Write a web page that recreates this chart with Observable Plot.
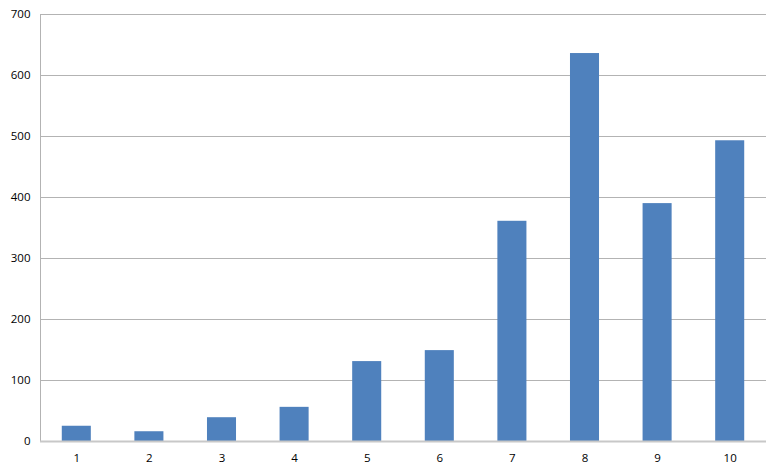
<!DOCTYPE html>
<html>
<head>
<meta charset="utf-8">
<script src="https://cdn.jsdelivr.net/npm/d3@7"></script>
<script src="https://cdn.jsdelivr.net/npm/@observablehq/plot@0.6"></script>
<style>
  html, body { margin: 0; padding: 0; background: #fff; }
  svg { display: block; }
</style>
</head>
<body>
<div id="chart"></div>
<script>
const categories = ["1", "2", "3", "4", "5", "6", "7", "8", "9", "10"];
const values = [25, 16, 39, 56, 131, 149, 361, 636, 390, 493];
const yTicks = [0, 100, 200, 300, 400, 500, 600, 700];

const data = categories.map((c, i) => ({ cat: c, value: values[i] }));

const chart = Plot.plot({
  width: 780,
  height: 474,
  marginLeft: 40,
  marginTop: 14,
  marginBottom: 33,
  marginRight: 14,
  style: { fontFamily: "'Open Sans', 'Noto Sans', sans-serif", fontSize: "11.5px", color: "#000", background: "#fff" },
  x: { domain: categories, paddingInner: 0.6, paddingOuter: 0.3, round: false, label: null },
  y: { domain: [0, 700], ticks: yTicks, label: null },
  marks: [
    Plot.gridY(yTicks.filter(d => d > 0), { stroke: "#b3b3b3", strokeOpacity: 1 }),
    Plot.frame({ anchor: "left", stroke: "#b3b3b3" }),
    Plot.barY(data, { x: "cat", y: "value", fill: "#4f81bd" }),
    Plot.ruleY([0], { stroke: "#c8c8c8", strokeWidth: 2 }),
    Plot.axisX({ tickSize: 0, tickPadding: 12, fill: "#000" }),
    Plot.axisY({ ticks: yTicks, tickSize: 0, tickPadding: 10, fill: "#000" })
  ]
});
document.getElementById("chart").appendChild(chart);
</script>
</body>
</html>
